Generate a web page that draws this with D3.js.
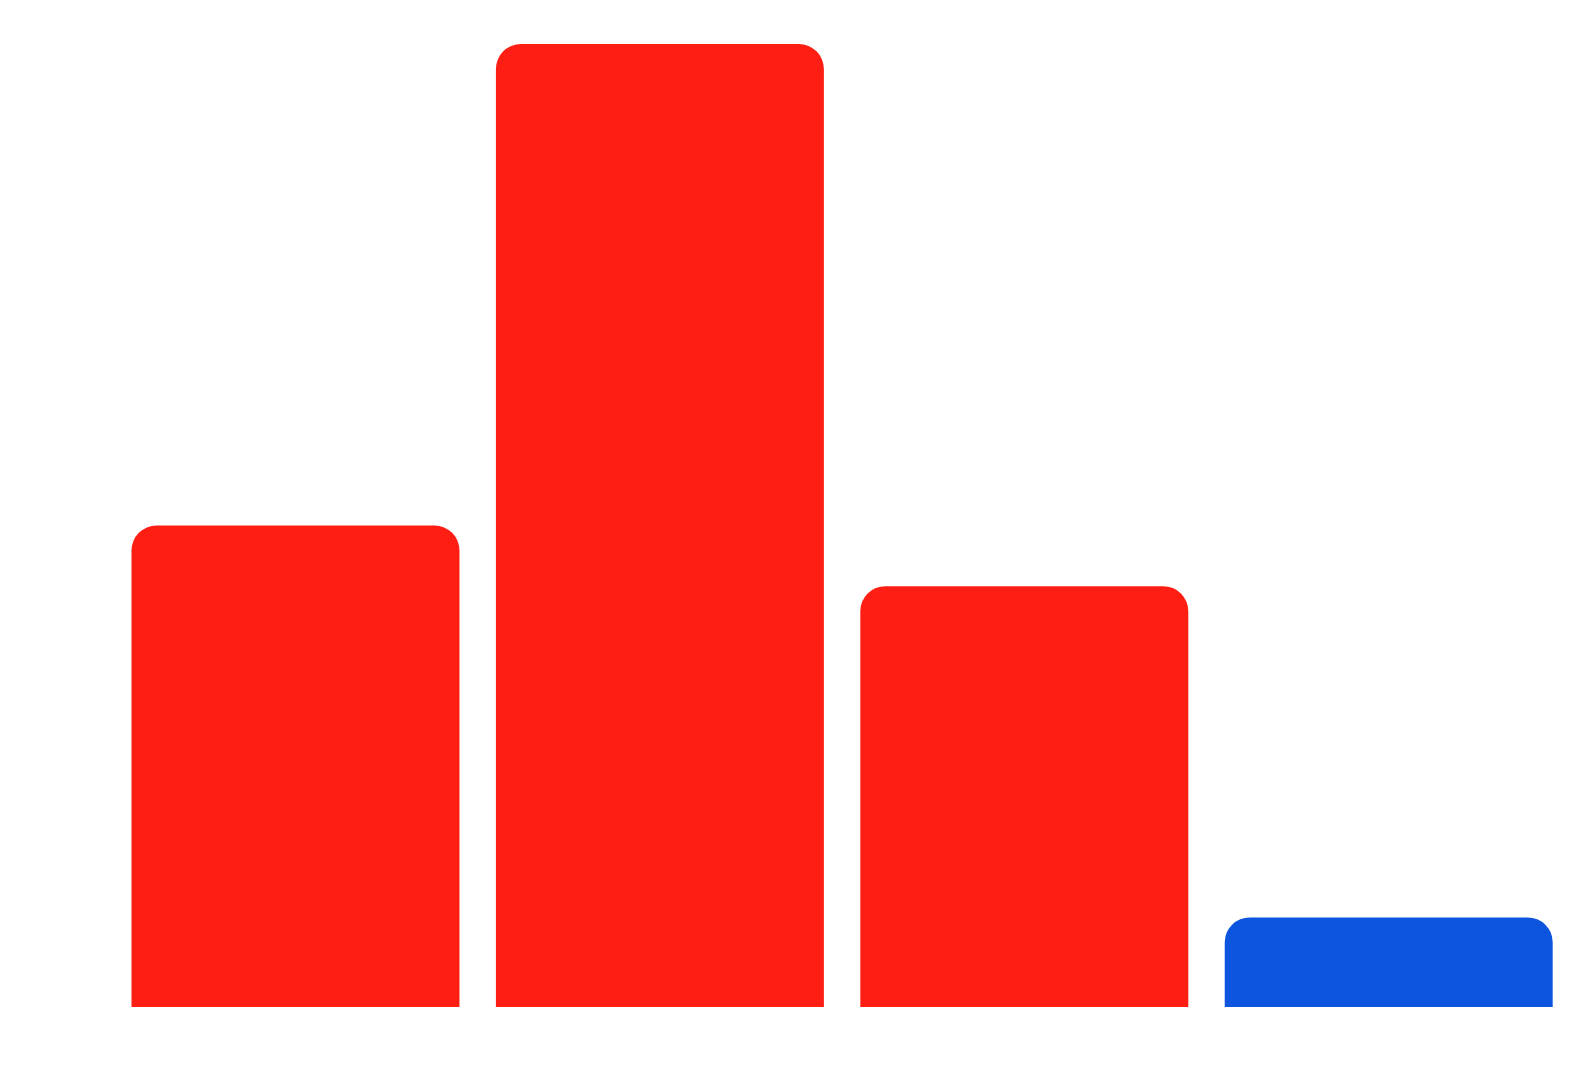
<!DOCTYPE html>
<html>
<head>
<meta charset="utf-8">
<script src="https://cdn.jsdelivr.net/npm/d3@7"></script>
<style>
  body { margin: 0; background: #fff; }
</style>
</head>
<body>
<div id="chart"></div>
<script>
// data
const categories = ["A", "B", "C", "D"];
const values = [50, 100, 43.7, 9.3];
const colors = ["#ff1e14", "#ff1e14", "#ff1e14", "#0d55de"];

const width = 1580, height = 1080;
const plot = {left: 131.5, right: 1552.7, top: 44, bottom: 1007};
const radius = 25;

let svg = d3.select("#chart")
  .append("svg")
  .attr("width", width)
  .attr("height", height);

let x = d3.scaleBand()
  .domain(categories)
  .range([plot.left, plot.right])
  .paddingInner(0.1)
  .paddingOuter(0);

let y = d3.scaleLinear()
  .domain([0, d3.max(values)])
  .range([plot.bottom, plot.top]);

// bar with rounded top corners only
function topRounded(x0, y0, w, h, r) {
  r = Math.min(r, h, w / 2);
  return `M${x0},${y0 + h}` +
    `V${y0 + r}` +
    `A${r},${r} 0 0 1 ${x0 + r},${y0}` +
    `H${x0 + w - r}` +
    `A${r},${r} 0 0 1 ${x0 + w},${y0 + r}` +
    `V${y0 + h}Z`;
}

let data = categories.map(function(c, i) { return {cat: c, value: values[i], color: colors[i]}; });

svg.selectAll("path.bar")
  .data(data)
  .enter()
  .append("path")
  .attr("class", "bar")
  .attr("fill", function(d) { return d.color; })
  .attr("d", function(d) {
    return topRounded(x(d.cat), y(d.value), x.bandwidth(), y(0) - y(d.value), radius);
  });
</script>
</body>
</html>
